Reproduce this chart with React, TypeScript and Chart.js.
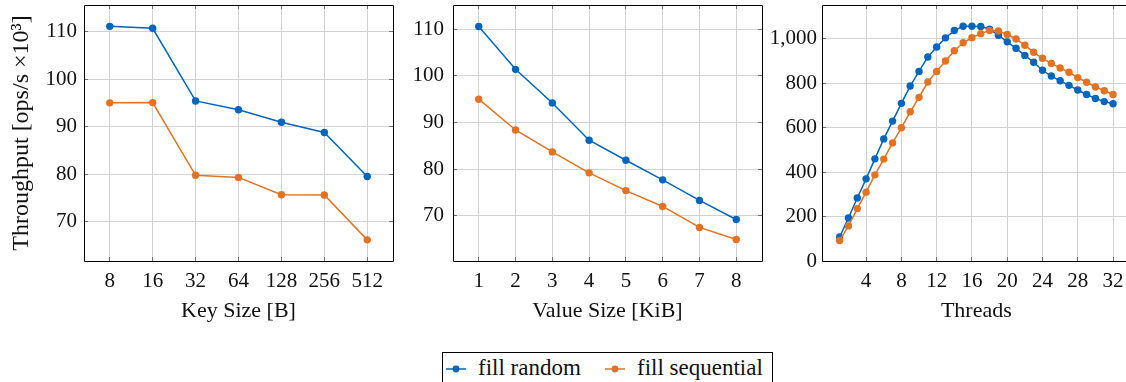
import { useEffect, useRef } from "react";
import { Chart, registerables } from "chart.js";

Chart.register(...registerables);

// Key size sweep (bytes); throughput in 10^3 ops/s
const keySizes = [8, 16, 32, 64, 128, 256, 512];
const keyFillRandom = [111.1, 110.7, 95.4, 93.55, 90.9, 88.75, 79.5];
const keyFillSequential = [95.0, 95.05, 79.75, 79.3, 75.65, 75.6, 66.15];

// Value size sweep (KiB)
const valueSizes = [1, 2, 3, 4, 5, 6, 7, 8];
const valueFillRandom = [110.6, 101.4, 94.2, 86.2, 81.9, 77.7, 73.3, 69.2];
const valueFillSequential = [95.0, 88.4, 83.7, 79.2, 75.4, 72.0, 67.5, 64.9];

// Thread count sweep
const threadCounts = [
  1, 2, 3, 4, 5, 6, 7, 8, 9, 10, 11, 12, 13, 14, 15, 16,
  17, 18, 19, 20, 21, 22, 23, 24, 25, 26, 27, 28, 29, 30, 31, 32,
];
const threadFillRandom = [
  108, 194, 284, 370, 460, 550, 630, 710, 788, 854, 919, 964, 1005, 1038, 1057, 1057,
  1056, 1044, 1017, 987, 958, 926, 895, 859, 833, 812, 791, 770, 750, 732, 718, 708,
];
const threadFillSequential = [
  92, 158, 236, 310, 388, 459, 532, 600, 672, 737, 806, 854, 901, 947, 983, 1006,
  1024, 1038, 1036, 1020, 1000, 972, 940, 913, 890, 869, 850, 826, 805, 784, 767, 750,
];

// Tick labels
const throughputTicks = [70, 80, 90, 100, 110];
const threadThroughputTicks = [0, 200, 400, 600, 800, 1000];
const threadTicks = [4, 8, 12, 16, 20, 24, 28, 32];

const seriesNames = ["fill random", "fill sequential"];

const BLUE = "#0065BD";
const ORANGE = "#E37222";
const GRID = "#d2d2d2";
const TEXT = "#111111";
const SERIF = '"Liberation Serif", "Times New Roman", serif';

const CANVAS_H = 330;
const AREA_TOP = 5;
const AREA_BOTTOM = 261;

const series = (label: string, xs: number[], ys: number[], color: string, order: number) => ({
  label,
  data: xs.map((x, i) => ({ x, y: ys[i] })),
  borderColor: color,
  backgroundColor: color,
  pointBackgroundColor: color,
  borderWidth: 1.5,
  pointRadius: 3.7,
  pointBorderWidth: 0,
  tension: 0,
  order,
});

const setTicks = (values: number[]) => (scale: any) => {
  scale.ticks = values.map((v) => ({ value: v }));
};

// Box around the plot area plus short inward tick marks on all four sides
const framePlugin = {
  id: "frame",
  afterDraw(chart: any) {
    const { ctx, chartArea } = chart;
    const { left, right, top, bottom } = chartArea;
    const x = chart.scales.x;
    const y = chart.scales.y;
    const a = (p: number) => Math.round(p - 0.5) + 0.5;
    ctx.save();
    ctx.lineWidth = 1;
    ctx.strokeStyle = "rgba(0,0,0,0.45)";
    ctx.beginPath();
    for (const t of x.ticks) {
      const px = a(x.getPixelForValue(t.value));
      ctx.moveTo(px, bottom);
      ctx.lineTo(px, bottom - 4);
      ctx.moveTo(px, top);
      ctx.lineTo(px, top + 4);
    }
    for (const t of y.ticks) {
      const py = a(y.getPixelForValue(t.value));
      ctx.moveTo(left, py);
      ctx.lineTo(left + 4, py);
      ctx.moveTo(right, py);
      ctx.lineTo(right - 4, py);
    }
    ctx.stroke();
    ctx.strokeStyle = "#000";
    ctx.beginPath();
    ctx.rect(a(left), a(top), Math.round(right - left), Math.round(bottom - top));
    ctx.stroke();
    ctx.restore();
  },
};

type PanelSpec = {
  left: number;
  width: number;
  yWidth: number;
  padRight: number;
  x: any;
  y: any;
  datasets: any[];
};

const tickFont = { family: SERIF, size: 21 };
const titleFont = { family: SERIF, size: 22 };

function xAxis(type: string, min: number, max: number, ticks: number[], title: string) {
  return {
    type,
    min,
    max,
    afterBuildTicks: setTicks(ticks),
    afterFit: (scale: any) => {
      scale.height = CANVAS_H - AREA_BOTTOM;
      scale.paddingLeft = 0;
      scale.paddingRight = 0;
    },
    grid: { color: GRID, lineWidth: 1, drawTicks: false },
    border: { display: false },
    ticks: {
      autoSkip: false,
      maxRotation: 0,
      minRotation: 0,
      padding: 8,
      color: TEXT,
      font: tickFont,
      callback: (v: number) => String(v),
    },
    title: {
      display: true,
      text: title,
      color: TEXT,
      font: titleFont,
      padding: { top: 0, bottom: 6 },
    },
  };
}

function yAxis(min: number, max: number, ticks: number[], width: number, pad: number, title?: string) {
  return {
    type: "linear",
    min,
    max,
    afterBuildTicks: setTicks(ticks),
    afterFit: (scale: any) => {
      scale.width = width;
      scale.paddingTop = 0;
      scale.paddingBottom = 0;
    },
    grid: { color: GRID, lineWidth: 1, drawTicks: false },
    border: { display: false },
    ticks: {
      padding: pad,
      color: TEXT,
      font: tickFont,
      callback: (v: number) => v.toLocaleString("en-US"),
    },
    title: {
      display: !!title,
      text: title || "",
      color: TEXT,
      font: { family: SERIF, size: 24 },
      padding: { top: 7, bottom: 0 },
    },
  };
}

const panels: PanelSpec[] = [
  {
    left: 0,
    width: 400,
    yWidth: 84,
    padRight: 7,
    x: xAxis("logarithmic", 8 / Math.pow(2, 0.6), 512 * Math.pow(2, 0.6), keySizes, "Key Size [B]"),
    y: yAxis(61.7, 115.6, throughputTicks, 84, 7, "Throughput [ops/s ×10³]"),
    datasets: [
      series(seriesNames[0], keySizes, keyFillRandom, BLUE, 1),
      series(seriesNames[1], keySizes, keyFillSequential, ORANGE, 0),
    ],
  },
  {
    left: 400,
    width: 370,
    yWidth: 53,
    padRight: 8,
    x: xAxis("linear", 0.3, 8.7, valueSizes, "Value Size [KiB]"),
    y: yAxis(60.3, 115.2, throughputTicks, 53, 9),
    datasets: [
      series(seriesNames[0], valueSizes, valueFillRandom, BLUE, 1),
      series(seriesNames[1], valueSizes, valueFillSequential, ORANGE, 0),
    ],
  },
  {
    left: 765,
    width: 380,
    yWidth: 57,
    padRight: 14.3,
    x: xAxis("linear", -1, 34, threadTicks, "Threads"),
    y: yAxis(0, 1153, threadThroughputTicks, 57, 5),
    datasets: [
      series(seriesNames[0], threadCounts, threadFillRandom, BLUE, 1),
      series(seriesNames[1], threadCounts, threadFillSequential, ORANGE, 0),
    ],
  },
];

function Panel({ spec }: { spec: PanelSpec }) {
  const ref = useRef<HTMLCanvasElement | null>(null);
  useEffect(() => {
    if (!ref.current) return;
    const chart = new Chart(ref.current, {
      type: "line",
      data: { datasets: spec.datasets },
      options: {
        animation: false,
        responsive: false,
        events: [],
        layout: { padding: { left: 0, top: AREA_TOP, right: spec.padRight, bottom: 0 } },
        plugins: { legend: { display: false }, tooltip: { enabled: false } },
        scales: { x: spec.x, y: spec.y },
      } as any,
      plugins: [framePlugin],
    });
    return () => chart.destroy();
  }, [spec]);
  return (
    <canvas
      ref={ref}
      width={spec.width}
      height={CANVAS_H}
      style={{ position: "absolute", left: spec.left, top: 0, width: spec.width, height: CANVAS_H }}
    />
  );
}

function LegendIcon({ color, left }: { color: string; left: number }) {
  return (
    <svg width={20} height={10} style={{ position: "absolute", left, top: 11 }}>
      <line x1={0} y1={5} x2={20} y2={5} stroke={color} strokeWidth={1.5} />
      <circle cx={10} cy={5} r={3.4} fill={color} />
    </svg>
  );
}

export default function App() {
  return (
    <div
      style={{
        position: "fixed",
        left: 0,
        top: 0,
        width: 1126,
        height: 382,
        overflow: "hidden",
        background: "#fff",
      }}
    >
      {panels.map((p, i) => (
        <Panel key={i} spec={p} />
      ))}
      <div
        style={{
          position: "absolute",
          left: 442,
          top: 352,
          width: 331,
          height: 40,
          border: "1px solid #000",
          boxSizing: "border-box",
          font: `23px ${SERIF}`,
          color: TEXT,
          lineHeight: "24px",
          whiteSpace: "nowrap",
        }}
      >
        <LegendIcon color={BLUE} left={3} />
        <span style={{ position: "absolute", left: 35, top: 3 }}>{seriesNames[0]}</span>
        <LegendIcon color={ORANGE} left={162} />
        <span style={{ position: "absolute", left: 194, top: 3 }}>{seriesNames[1]}</span>
      </div>
    </div>
  );
}
